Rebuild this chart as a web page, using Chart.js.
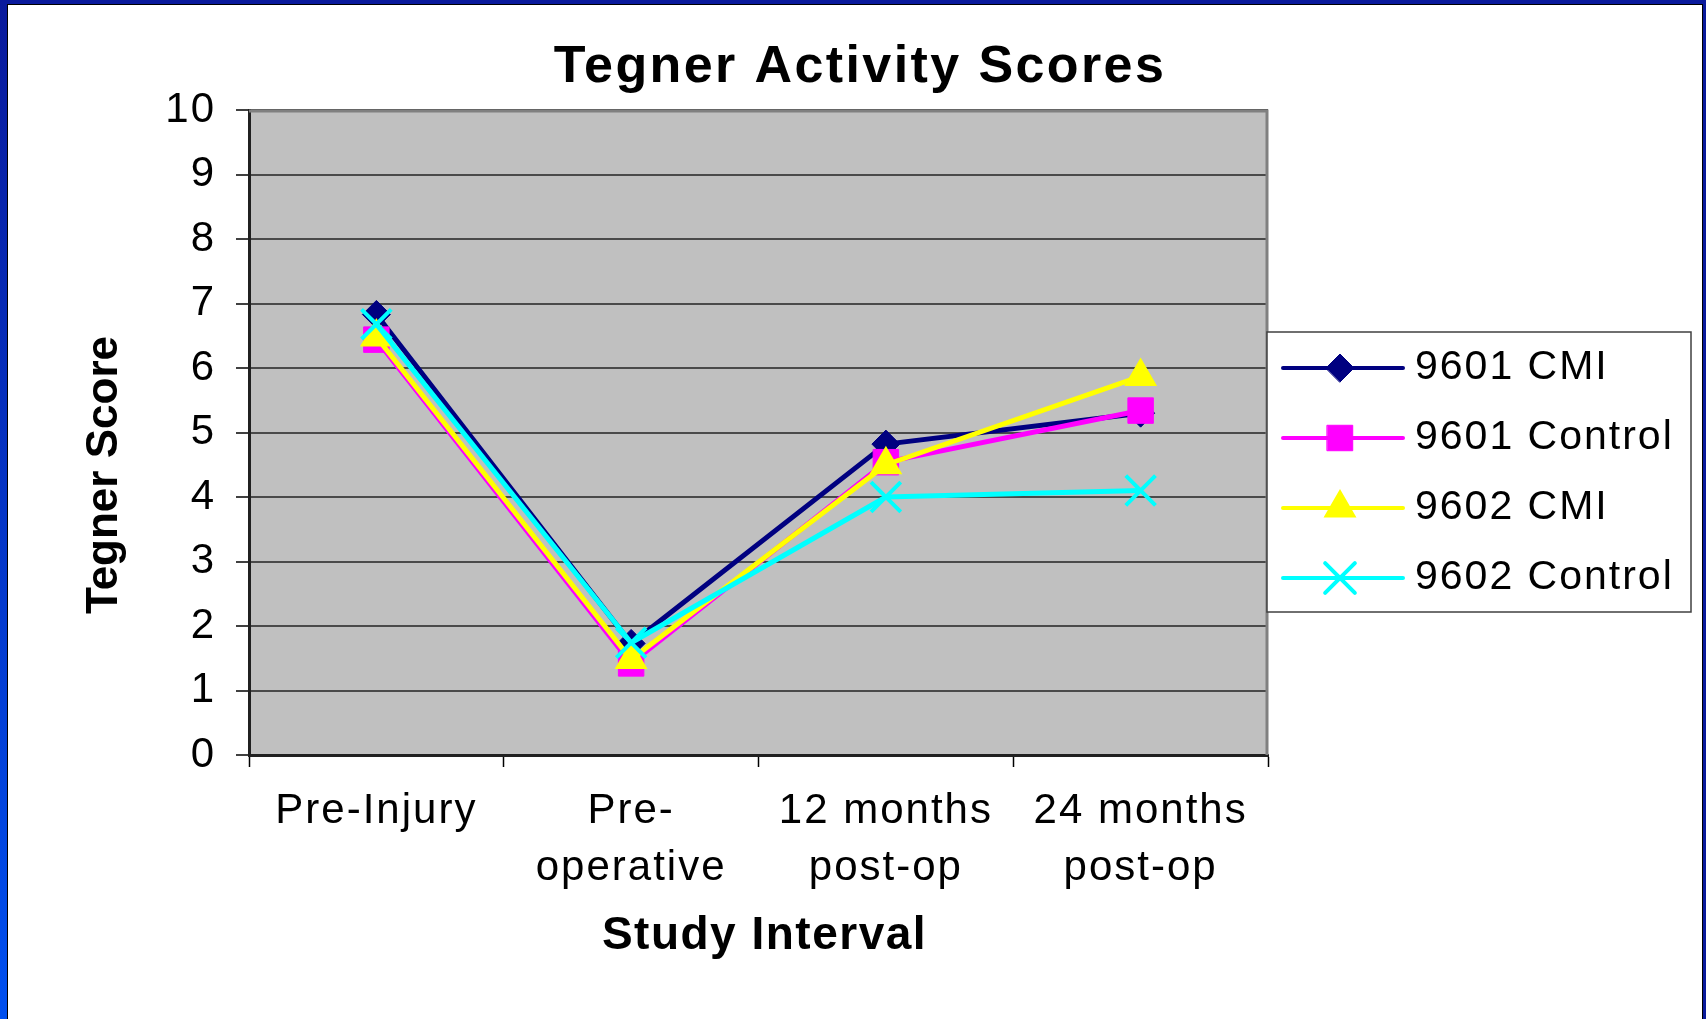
<!DOCTYPE html>
<html>
<head>
<meta charset="utf-8">
<script src="https://cdn.jsdelivr.net/npm/chart.js@4.4.1/dist/chart.umd.min.js"></script>
<style>
html, body { margin: 0; padding: 0; background: #fff; overflow: hidden; }
#wrap { position: relative; width: 1706px; height: 1019px; }
#wrap canvas { position: absolute; left: 0; top: 0; }
.frame { position: absolute; pointer-events: none; box-sizing: border-box; }
</style>
</head>
<body>
<div id="wrap">
  <canvas id="tegnerChart" width="1706" height="1019"></canvas>
  <div class="frame" style="left:0;top:0;width:1706px;height:4px;background:#0a1a9c"></div>
  <div class="frame" style="left:0;top:0;width:7px;height:1019px;background:linear-gradient(#0a1a9c,#0050f0)"></div>
  <div class="frame" style="right:0;top:0;width:3px;height:1019px;background:#0a1a9c"></div>
  <div class="frame" style="left:7px;top:4px;width:1696px;height:1015px;border-top:1px solid #000;border-left:1px solid #000;border-right:1px solid #000"></div>
</div>
<script>
// 横軸のカテゴリ（複数行ラベル）
const intervals = [['Pre-Injury'], ['Pre-', 'operative'], ['12 months', 'post-op'], ['24 months', 'post-op']];
const scoreRange = [0, 10];

// 各グループのスコア
const cmi9601 = [6.83, 1.73, 4.82, 5.3];
const control9601 = [6.44, 1.42, 4.54, 5.34];
const cmi9602 = [6.48, 1.48, 4.5, 5.87];
const control9602 = [6.68, 1.74, 4.0, 4.1];

const seriesNames = ['9601 CMI', '9601 Control', '9602 CMI', '9602 Control'];

const FONT = 'Liberation Sans, Arial, sans-serif';

// 背景・枠・タイトル・凡例を描くプラグイン
const frameAndText = {
    id: 'frameAndText',
    beforeDraw(chart) {
        const { ctx, chartArea: a } = chart;
        ctx.letterSpacing = '2px';
        ctx.save();
        ctx.fillStyle = '#c0c0c0';
        ctx.fillRect(a.left, a.top, a.right - a.left, a.bottom - a.top);
        ctx.restore();
    },
    beforeDatasetsDraw(chart) {
        const { ctx, chartArea: a } = chart;
        ctx.save();
        ctx.strokeStyle = '#808080';
        ctx.lineWidth = 3;
        ctx.beginPath();
        ctx.moveTo(a.left, a.top + 1);
        ctx.lineTo(a.right - 1, a.top + 1);
        ctx.lineTo(a.right - 1, a.bottom);
        ctx.stroke();
        ctx.restore();
    },
    afterDraw(chart) {
        const { ctx, chartArea: a } = chart;
        ctx.save();
        ctx.fillStyle = '#000';

        // タイトル
        ctx.letterSpacing = '2.4px';
        ctx.font = 'bold 52px ' + FONT;
        ctx.textAlign = 'center';
        ctx.textBaseline = 'alphabetic';
        ctx.fillText('Tegner Activity Scores', 860, 82);

        // 横軸タイトル
        ctx.letterSpacing = '1.5px';
        ctx.font = 'bold 46px ' + FONT;
        ctx.fillText('Study Interval', (a.left + a.right) / 2 + 6, 949);

        // 縦軸タイトル
        ctx.letterSpacing = '0px';
        ctx.font = 'bold 44px ' + FONT;
        ctx.save();
        ctx.translate(117, 475);
        ctx.rotate(-Math.PI / 2);
        ctx.fillText('Tegner Score', 0, 0);
        ctx.restore();

        // 凡例
        const boxX = a.right - 1, boxY = 332, boxW = 424, boxH = 280;
        ctx.fillStyle = '#fff';
        ctx.fillRect(boxX, boxY, boxW, boxH);
        ctx.strokeStyle = '#404040';
        ctx.lineWidth = 1.5;
        ctx.strokeRect(boxX, boxY, boxW, boxH);

        chart.data.datasets.forEach((ds, i) => {
            const y = 368 + i * 70;
            ctx.strokeStyle = ds.borderColor;
            ctx.lineWidth = 4;
            ctx.lineCap = 'round';
            ctx.beginPath();
            ctx.moveTo(boxX + 16, y);
            ctx.lineTo(boxX + 136, y);
            ctx.stroke();

            ctx.fillStyle = ds.pointBackgroundColor;
            ctx.strokeStyle = ds.pointBorderColor;
            ctx.lineWidth = ds.pointBorderWidth;
            Chart.helpers.drawPoint(ctx, {
                pointStyle: ds.pointStyle,
                radius: ds.pointRadius,
                borderWidth: ds.pointBorderWidth,
                rotation: 0
            }, boxX + 73, y);

            ctx.fillStyle = '#000';
            ctx.letterSpacing = '2px';
            ctx.font = '41px ' + FONT;
            ctx.textAlign = 'left';
            ctx.textBaseline = 'middle';
            ctx.fillText(ds.label, boxX + 148, y);
        });
        ctx.restore();
    }
};

function makeSeries(label, data, color, style, radius, bw, order) {
    return {
        label: label,
        data: data,
        borderColor: color,
        backgroundColor: color,
        borderWidth: 5,
        borderCapStyle: 'round',
        borderJoinStyle: 'round',
        pointStyle: style,
        pointRadius: radius,
        pointHoverRadius: radius,
        pointBackgroundColor: color,
        pointBorderColor: color,
        pointBorderWidth: bw,
        tension: 0,
        order: order
    };
}

let tegnerCtx = document.getElementById('tegnerChart').getContext('2d');

let tegnerChart = new Chart(tegnerCtx, {
    type: 'line',
    data: {
        labels: intervals,
        datasets: [
            makeSeries(seriesNames[0], cmi9601, '#000080', 'rectRot', 14, 1, 4),
            makeSeries(seriesNames[1], control9601, '#ff00ff', 'rect', 18, 1, 3),
            makeSeries(seriesNames[2], cmi9602, '#ffff00', 'triangle', 17, 2, 2),
            makeSeries(seriesNames[3], control9602, '#00ffff', 'crossRot', 21, 4, 1)
        ]
    },
    options: {
        responsive: false,
        animation: false,
        layout: { padding: { left: 0, top: 110, right: 438, bottom: 0 } },
        plugins: {
            legend: { display: false },
            title: { display: false },
            tooltip: { enabled: false }
        },
        scales: {
            x: {
                offset: true,
                afterFit: scale => { scale.height = 264; },
                grid: {
                    offset: true,
                    drawOnChartArea: false,
                    tickLength: 12,
                    tickColor: '#000',
                    tickWidth: 1.5
                },
                border: { color: '#202020', width: 3 },
                ticks: {
                    color: '#000',
                    font: { family: FONT, size: 42, lineHeight: 1.36 },
                    padding: 16,
                    autoSkip: false,
                    maxRotation: 0
                }
            },
            y: {
                min: scoreRange[0],
                max: scoreRange[1],
                afterFit: scale => { scale.width = 249; },
                grid: {
                    color: '#4a4a4a',
                    lineWidth: 2,
                    tickLength: 13,
                    tickColor: '#000',
                    tickWidth: 1.5
                },
                border: { color: '#202020', width: 3 },
                ticks: {
                    stepSize: 1,
                    color: '#000',
                    font: { family: FONT, size: 42 },
                    padding: 20
                }
            }
        }
    },
    plugins: [frameAndText]
});
</script>
</body>
</html>
